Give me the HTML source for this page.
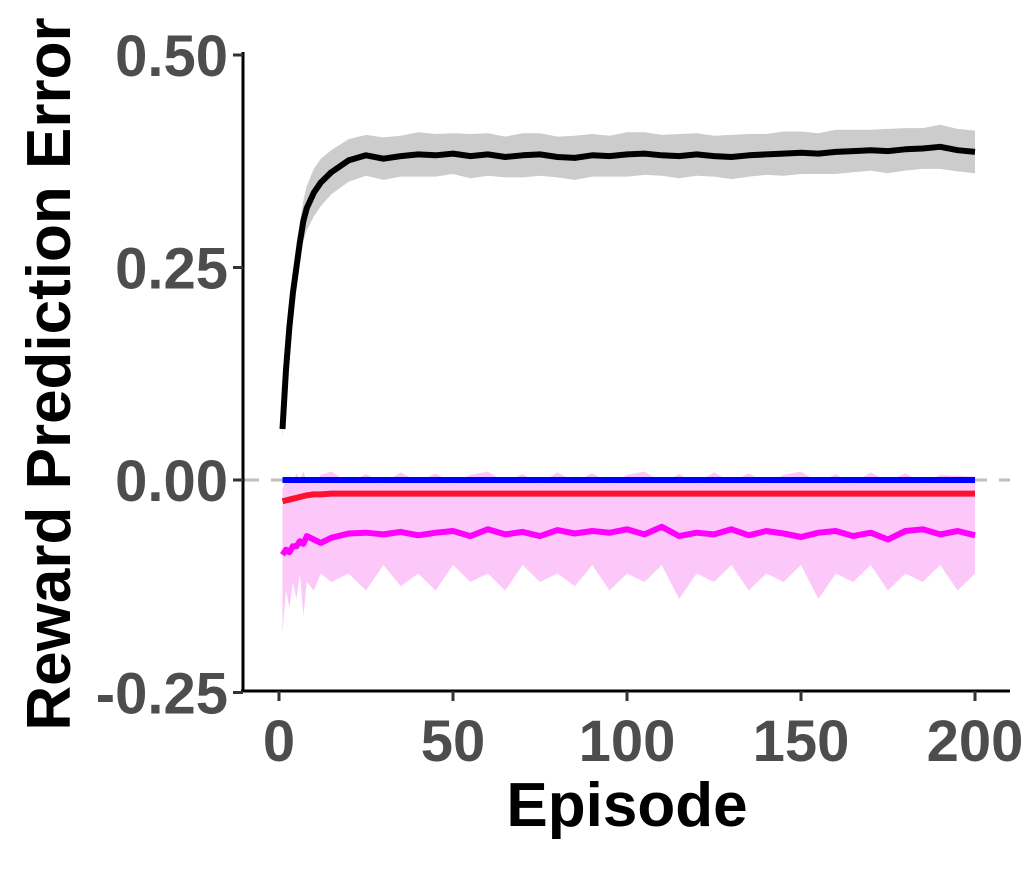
<!DOCTYPE html>
<html><head><meta charset="utf-8"><style>
body{margin:0;background:#fff;}
svg{display:block;font-family:"Liberation Sans",Arial,sans-serif;font-weight:bold;}
</style></head><body>
<svg id="chart" width="1034" height="893" viewBox="0 0 1034 893">
<g id="plot"></g>
<g id="axes"></g>
</svg>
<script>
const episodes=[1,2,3,4,5,6,7,8,10,12,15,20,25,30,35,40,45,50,55,60,65,70,75,80,85,90,95,100,105,110,115,120,125,130,135,140,145,150,155,160,165,170,175,180,185,190,195,200];
const blackMean=[0.06,0.13,0.18,0.22,0.25,0.28,0.305,0.32,0.338,0.35,0.362,0.376,0.382,0.378,0.381,0.383,0.382,0.384,0.381,0.383,0.38,0.382,0.383,0.38,0.379,0.382,0.381,0.383,0.384,0.382,0.381,0.383,0.381,0.38,0.382,0.383,0.384,0.385,0.384,0.386,0.387,0.388,0.387,0.389,0.39,0.392,0.388,0.386];
const blackHalf=[0.01,0.012,0.015,0.018,0.02,0.022,0.024,0.026,0.028,0.028,0.026,0.025,0.024,0.025,0.024,0.026,0.025,0.024,0.026,0.025,0.024,0.026,0.025,0.024,0.026,0.025,0.024,0.026,0.025,0.024,0.026,0.025,0.024,0.026,0.025,0.024,0.026,0.025,0.024,0.026,0.025,0.024,0.026,0.025,0.024,0.026,0.025,0.025];
const redMean=[-0.025,-0.024,-0.023,-0.022,-0.021,-0.02,-0.019,-0.018,-0.017,-0.017,-0.016,-0.016,-0.016,-0.016,-0.016,-0.016,-0.016,-0.016,-0.016,-0.016,-0.016,-0.016,-0.016,-0.016,-0.016,-0.016,-0.016,-0.016,-0.016,-0.016,-0.016,-0.016,-0.016,-0.016,-0.016,-0.016,-0.016,-0.016,-0.016,-0.016,-0.016,-0.016,-0.016,-0.016,-0.016,-0.016,-0.016,-0.016];
const blueMean=[0,0,0,0,0,0,0,0,0,0,0,0,0,0,0,0,0,0,0,0,0,0,0,0,0,0,0,0,0,0,0,0,0,0,0,0,0,0,0,0,0,0,0,0,0,0,0,0];
const magMean=[-0.088,-0.082,-0.085,-0.078,-0.078,-0.072,-0.075,-0.066,-0.07,-0.074,-0.068,-0.063,-0.062,-0.064,-0.061,-0.065,-0.062,-0.06,-0.066,-0.058,-0.064,-0.061,-0.066,-0.059,-0.063,-0.06,-0.062,-0.058,-0.064,-0.055,-0.066,-0.062,-0.064,-0.058,-0.065,-0.06,-0.063,-0.067,-0.062,-0.06,-0.066,-0.062,-0.07,-0.06,-0.058,-0.064,-0.06,-0.065];
const magLow=[-0.18,-0.13,-0.15,-0.12,-0.14,-0.11,-0.16,-0.12,-0.13,-0.11,-0.12,-0.11,-0.13,-0.1,-0.125,-0.11,-0.13,-0.1,-0.12,-0.11,-0.13,-0.1,-0.12,-0.11,-0.125,-0.1,-0.13,-0.11,-0.12,-0.1,-0.14,-0.11,-0.12,-0.1,-0.13,-0.11,-0.12,-0.1,-0.14,-0.11,-0.12,-0.1,-0.13,-0.11,-0.12,-0.1,-0.13,-0.11];
const magHigh=[-0.01,0.0,0.005,-0.003,0.008,0.0,0.01,-0.002,-0.004,0.006,0.01,-0.003,0.007,-0.004,0.009,-0.002,0.008,-0.004,0.006,0.01,-0.003,0.007,-0.004,0.009,-0.002,0.008,-0.004,0.006,0.01,-0.003,0.007,-0.004,0.009,-0.002,0.008,-0.004,0.006,0.01,-0.003,0.007,-0.004,0.009,-0.002,0.008,-0.004,0.006,0.005,0.004];
const xTicks=[0,50,100,150,200];
const yTicks=[0.5,0.25,0,-0.25];
const yTickLabels=["0.50","0.25","0.00","-0.25"];

const X=e=>279+e*3.48;
const Y=v=>480-v*850;
const NS="http://www.w3.org/2000/svg";
const plot=document.getElementById('plot'),axes=document.getElementById('axes');
function mk(tag,attrs,parent){const el=document.createElementNS(NS,tag);for(const k in attrs)el.setAttribute(k,attrs[k]);parent.appendChild(el);return el;}
function linePts(arr){return episodes.map((e,i)=>X(e).toFixed(1)+','+Y(arr[i]).toFixed(1)).join(' ');}
function bandPts(lo,hi){const a=episodes.map((e,i)=>X(e).toFixed(1)+','+Y(hi[i]).toFixed(1));const b=episodes.map((e,i)=>X(e).toFixed(1)+','+Y(lo[i]).toFixed(1)).reverse();return a.concat(b).join(' ');}

let z=mk('line',{x1:243,x2:1010,y1:Y(0),y2:Y(0),stroke:'#bdbdbd','stroke-width':3,'stroke-dasharray':'16,12'},plot);



const bl=blackMean.map((m,i)=>m-blackHalf[i]), bh=blackMean.map((m,i)=>m+blackHalf[i]);
let gb=mk('polygon',{points:bandPts(bl,bh),fill:'#cccccc'},plot);


let pb=mk('polygon',{points:bandPts(magLow,magHigh),fill:'#fbc8f9'},plot);



const series=[[blueMean,'#0000ff','blue-series-line'],[redMean,'#ff1030','red-series-line'],[magMean,'#ff00ff','magenta-series-line'],[blackMean,'#000000','black-series-line']];
series.forEach(s=>{
  const p=mk('polyline',{points:linePts(s[0]),fill:'none',stroke:s[1],'stroke-width':6,'stroke-linejoin':'round'},plot);
  
  
});

let ya=mk('line',{x1:243,x2:243,y1:52,y2:692,stroke:'#000','stroke-width':3},axes);


let xa=mk('line',{x1:241,x2:1010,y1:691,y2:691,stroke:'#000','stroke-width':3},axes);



yTicks.forEach((v,i)=>{
  const t=mk('line',{x1:233,x2:243,y1:Y(v),y2:Y(v),stroke:'#333','stroke-width':3},axes);
  
  
  const l=mk('text',{x:228,y:Y(v)+21,'text-anchor':'end','font-size':58,fill:'#4d4d4d'},axes);
  l.textContent=yTickLabels[i];
  
  
});
xTicks.forEach(v=>{
  const t=mk('line',{x1:X(v),x2:X(v),y1:691,y2:701,stroke:'#333','stroke-width':3},axes);
  
  
  const l=mk('text',{x:X(v),y:761,'text-anchor':'middle','font-size':58,fill:'#4d4d4d'},axes);
  l.textContent=String(v);
  
  
});
let xt=mk('text',{x:627,y:826,'text-anchor':'middle','font-size':62,fill:'#000'},axes);
xt.textContent='Episode';


let yt=mk('text',{x:0,y:0,'text-anchor':'middle','font-size':62,fill:'#000',transform:'translate(70,374) rotate(-90)'},axes);
yt.textContent='Reward Prediction Error';


</script>
</body></html>
